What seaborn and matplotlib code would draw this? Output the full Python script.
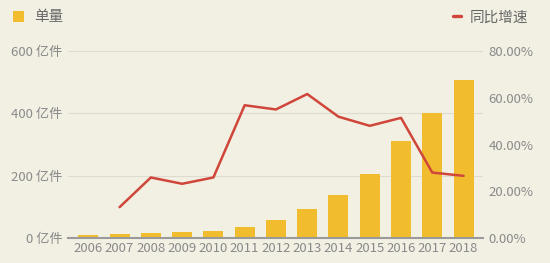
import matplotlib
matplotlib.use("Agg")
import matplotlib.pyplot as plt
import seaborn as sns
import pandas as pd
from matplotlib.patches import Patch
from matplotlib.lines import Line2D
from matplotlib.ticker import FuncFormatter

years = [2006, 2007, 2008, 2009, 2010, 2011, 2012, 2013, 2014, 2015, 2016, 2017, 2018]
volume = [10.6, 12.0, 15.1, 18.6, 23.4, 36.7, 56.9, 91.9, 139.6, 206.7, 312.8, 400.6, 507.1]
growth_years = [2007, 2008, 2009, 2010, 2011, 2012, 2013, 2014, 2015, 2016, 2017, 2018]
growth = [13.2, 25.9, 23.2, 25.9, 56.8, 55.0, 61.6, 51.9, 48.0, 51.4, 28.0, 26.6]
left_ticks = [0, 200, 400, 600]
right_ticks = [0, 20, 40, 60, 80]

bg = "#f2efe3"
bar_color = "#f1bd2f"
line_color = "#d0463a"
text_color = "#8a8a8a"

sns.set_theme(style="white")
plt.rcParams['font.family'] = ['Noto Sans CJK SC', 'DejaVu Sans']

fig = plt.figure(figsize=(5.5, 2.63), dpi=100, facecolor=bg)
ax = fig.add_axes([0.1236, 0.095, 0.7545, 0.711])
ax.set_facecolor(bg)

df = pd.DataFrame({"year": years, "volume": volume})
sns.barplot(data=df, x="year", y="volume", native_scale=True, width=0.64,
            color=bar_color, saturation=1, ax=ax, zorder=3,
            linewidth=0, edgecolor=bar_color)

ax.set_ylim(0, 600)
ax.set_xlim(2006 - 0.65, 2018 + 0.62)
ax.set_yticks(left_ticks)
ax.yaxis.set_major_formatter(FuncFormatter(lambda v, p: f"{int(v)} 亿件"))
ax.set_xticks(years)
ax.set_xticklabels([str(y) for y in years])
ax.grid(axis="y", color="#dedbd0", linewidth=0.8, zorder=0)
ax.set_axisbelow(True)
for s in ["top", "right", "left"]:
    ax.spines[s].set_visible(False)
ax.spines["bottom"].set_color("#9a9a9a")
ax.spines["bottom"].set_linewidth(1.5)
ax.spines["bottom"].set_zorder(5)
ax.tick_params(axis="both", length=0, labelsize=9.5, colors=text_color)
ax.tick_params(axis="x", pad=3)
ax.tick_params(axis="y", pad=4)
ax.set_xlabel("")
ax.set_ylabel("")

ax2 = ax.twinx()
gdf = pd.DataFrame({"year": growth_years, "growth": growth})
sns.lineplot(data=gdf, x="year", y="growth", color=line_color, linewidth=1.8, ax=ax2, zorder=4)
ax2.set_ylim(0, 80)
ax2.set_yticks(right_ticks)
ax2.yaxis.set_major_formatter(FuncFormatter(lambda v, p: f"{v:.2f}%"))
for s in ["top", "right", "left", "bottom"]:
    ax2.spines[s].set_visible(False)
ax2.tick_params(axis="y", length=0, labelsize=9.5, colors=text_color, pad=4)
ax2.set_ylabel("")
ax2.set_xlabel("")

leg1 = fig.legend(handles=[Patch(facecolor=bar_color, edgecolor="none", label="单量")],
                  loc="upper left", bbox_to_anchor=(0.0, 1.01), frameon=False,
                  handlelength=0.75, handleheight=0.75, handletextpad=0.7, fontsize=10.5)
for t in leg1.get_texts():
    t.set_color("#666666")
leg2 = fig.legend(handles=[Line2D([0], [0], color=line_color, linewidth=2.4, label="同比增速")],
                  loc="upper right", bbox_to_anchor=(0.985, 1.01), frameon=False,
                  handlelength=0.6, handletextpad=0.6, fontsize=10.5)
for t in leg2.get_texts():
    t.set_color("#666666")

fig.savefig("out.png", dpi=100, facecolor=bg)
